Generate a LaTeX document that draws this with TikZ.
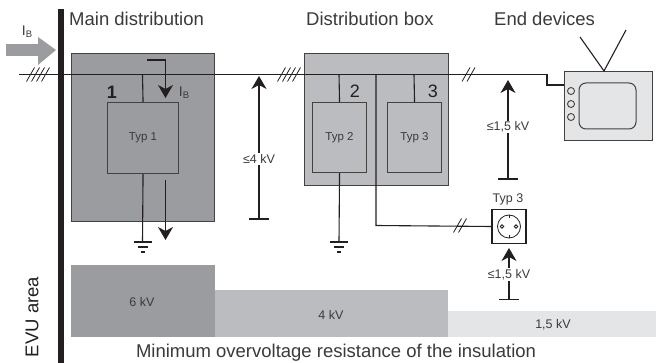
\documentclass[tikz,border=0pt]{standalone}
\usepackage{fontspec}
\setmainfont{Liberation Sans}
\usetikzlibrary{arrows.meta}
\definecolor{dk}{HTML}{9B9C9F}
\definecolor{md}{HTML}{BBBCBF}
\definecolor{lt}{HTML}{E4E5E6}
\definecolor{ln}{HTML}{231F20}
\definecolor{tx}{HTML}{3A3A3A}
\tikzset{
 wire/.style={draw=ln,line width=1.1pt},
 hatch/.style={draw=ln,line width=0.8pt},
 boxln/.style={draw=ln!85,line width=1.1pt},
 arr/.style={draw=ln,line width=1.1pt,-{Stealth[length=13pt,width=15pt,inset=4pt]}},
 head/.style={font=\fontsize{18.5}{20}\selectfont,text=tx,inner sep=0pt},
 small/.style={font=\fontsize{12.5}{14}\selectfont,text=tx,inner sep=1pt},
 num/.style={font=\fontsize{18}{20}\selectfont,text=ln,inner sep=0pt},
 lab/.style={font=\fontsize{12.5}{14}\selectfont,text=tx,inner sep=1pt,fill=white},
 typ/.style={boxln,anchor=north west,inner sep=0pt,font=\fontsize{11.5}{13}\selectfont,text=tx},
 ib/.style={font=\fontsize{14}{15}\selectfont,text=tx,inner sep=0pt},
}
\newcommand{\grnd}[2]{%
 \draw[wire] (#1-9,#2) -- (#1+9,#2);
 \draw[wire] (#1-5,#2+5) -- (#1+5,#2+5);
 \draw[wire] (#1-2,#2+10) -- (#1+2,#2+10);}
\newcommand{\hatchmark}[3]{%
 \foreach \d in {1,...,#3}{\draw[hatch] ({#1+(\d-(#3+1)/2)*5-4},#2+7) -- ({#1+(\d-(#3+1)/2)*5+4},#2-7);}}
\newcommand{\ibtext}{I\raisebox{-2pt}{\fontsize{9.5}{10}\selectfont B}}
\begin{document}
\begin{tikzpicture}[x=1pt,y=-1pt]
\useasboundingbox (0,0) rectangle (656,363);
% bands
\fill[dk] (71,265) rectangle (215,337);
\fill[md] (215,290) rectangle (448,337);
\fill[lt] (448,311) rectangle (656,337);
% boxes
\node[boxln,fill=dk,minimum width=143pt,minimum height=168pt,anchor=north west,inner sep=0pt] (mainbox) at (71,53) {};
\node[boxln,fill=md,minimum width=144pt,minimum height=132pt,anchor=north west,inner sep=0pt] (distbox) at (304,53) {};
\node[typ,minimum width=71pt,minimum height=71pt] (t1) at (107,102) {Typ 1};
\node[typ,minimum width=54pt,minimum height=70pt] (t2) at (312,102) {Typ 2};
\node[typ,minimum width=54pt,minimum height=70pt] (t3) at (387,102) {Typ 3};
% socket
\node[draw=ln,line width=1.2pt,fill=white,minimum size=34pt,inner sep=0pt] (sock) at (509,226.5) {};
\draw[ln,line width=0.8pt] (sock.center) circle (11.5);
\draw[ln,line width=0.8pt] (502,226.5) circle (1.8) (516,226.5) circle (1.8);
\draw[ln,line width=0.8pt] (509,215) -- (509,218) (509,235) -- (509,238);
% TV
\node[draw=ln!85,line width=1.2pt,fill=lt,minimum width=88pt,minimum height=69pt,anchor=north west,inner sep=0pt] (tv) at (564,71) {};
\draw[ln!85,line width=1pt,rounded corners=7pt] (579,83) rectangle (636,129);
\foreach \yy in {91,104,117}{\draw[ln!85,line width=0.9pt] (571,\yy) circle (3.5);}
\coordinate (ant) at (604,71);
\coordinate (antL) at (580,37);
\coordinate (antR) at (626,30);
\draw[wire] (antL) -- (ant) -- (antR);
% main wire
\coordinate (w0) at (19,74.5);
\coordinate (w1) at (547,74.5);
\draw[wire] (w0) -- (w1) -- (547,85) -- (564,85);
\hatchmark{38}{74.5}{4}
\hatchmark{289}{74.5}{4}
\hatchmark{468.5}{74.5}{2}
% stems
\draw[wire] (142.5,74.5) -- (t1.north);
\draw[wire] (t1.south) -- (142.5,242);
\grnd{142.5}{242}
\draw[wire] (339,74.5) -- (t2.north);
\draw[wire] (t2.south) -- (339,242);
\grnd{339}{242}
\draw[wire] (414,74.5) -- (t3.north);
\draw[wire] (376,74.5) -- (376,225.5) -- (sock.west);
\hatchmark{460}{225.5}{2}
% current arrows
\draw[arr] (147,60) -- (165.5,60) -- (165.5,98);
\draw[arr] (165.5,180) -- (165.5,240);
% voltage arrows
\coordinate (va) at (259,219); \coordinate (vat) at (259,76);
\draw[arr] (va) -- (vat);
\draw[wire] (249,219) -- (269,219);
\node[lab] (l4) at (259,159) {≤4 kV};
\coordinate (vb) at (508,179); \coordinate (vbt) at (508,80);
\draw[arr] (vb) -- (vbt);
\draw[wire] (498,179) -- (518,179);
\node[lab] (l15) at (508,127) {≤1,5 kV};
\coordinate (vc) at (509,299.5); \coordinate (vct) at (509,248);
\draw[arr] (vc) -- (vct);
\draw[wire] (499,299.5) -- (519,299.5);
\node[lab] (l15b) at (509,274.5) {≤1,5 kV};
% big arrow
\fill[dk] (6,44) rectangle (38,56.5);
\fill[dk] (38,37) -- (56,50) -- (38,65) -- cycle;
% bar
\fill[ln] (58,9) rectangle (64,363);
% text
\node[head,anchor=west] (h1) at (69,19) {Main distribution};
\node[head,anchor=west] (h2) at (306,19) {Distribution box};
\node[head,anchor=west] (h3) at (494,19) {End devices};
\node[head,anchor=center] (h4) at (336,353) {Minimum overvoltage resistance of the insulation};
\node[font=\fontsize{18.5}{20}\selectfont,text=ln,inner sep=0pt,rotate=90] (evu) at (32,317) {EVU area};
\node[num] (n1) at (112,92.5) {\textbf{1}};
\node[num] (n2) at (355,91.5) {2};
\node[num] (n3) at (433,91.5) {3};
\node[ib] (ib1) at (27,32) {\ibtext};
\node[ib] (ib2) at (184,93) {\ibtext};
\node[small] (k6) at (142,302) {6 kV};
\node[small] (k4) at (331,315) {4 kV};
\node[small] (k15) at (553,325) {1,5 kV};
\node[small] (ty3) at (508,199) {Typ 3};
\end{tikzpicture}
\end{document}
